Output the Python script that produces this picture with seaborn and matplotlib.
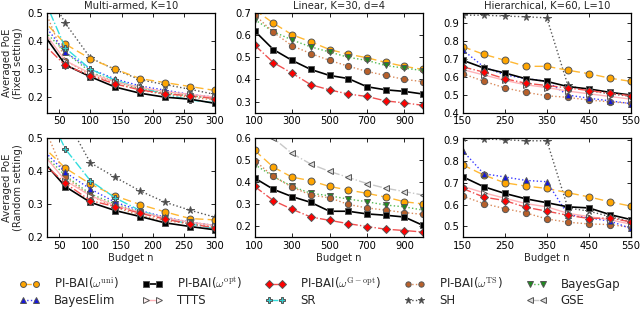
import numpy as np
import pandas as pd
import matplotlib
matplotlib.use("Agg")
import matplotlib.pyplot as plt
import seaborn as sns
from matplotlib.lines import Line2D

# ---------------- data ----------------
n_multi = [20, 60, 100, 140, 180, 220, 260, 300]
n_lin = [100, 200, 300, 400, 500, 600, 700, 800, 900, 1000]
n_hier = [150, 200, 250, 300, 350, 400, 450, 500, 550]

# Multi-armed, fixed
mf_uni = [0.485, 0.389, 0.337, 0.300, 0.266, 0.252, 0.238, 0.224]
mf_opt = [0.44, 0.315, 0.273, 0.236, 0.214, 0.200, 0.193, 0.178]
mf_gopt = [0.40, 0.313, 0.277, 0.247, 0.226, 0.212, 0.205, 0.195]
mf_ts = [0.55, 0.330, 0.280, 0.250, 0.225, 0.210, 0.200, 0.190]
mf_gap = [0.45, 0.360, 0.290, 0.255, 0.230, 0.215, 0.205, 0.195]
mf_elim = [0.475, 0.360, 0.300, 0.265, 0.240, 0.225, 0.210, 0.200]
mf_ttts = [0.45, 0.330, 0.285, 0.255, 0.235, 0.220, 0.210, 0.200]
mf_sr = [0.58, 0.375, 0.300, 0.260, 0.235, 0.210, 0.190, 0.180]
mf_sh = [0.62, 0.463, 0.340, 0.298, 0.262, 0.245, 0.228, 0.210]

# Multi-armed, random
mr_uni = [0.48, 0.408, 0.360, 0.324, 0.298, 0.276, 0.256, 0.252]
mr_opt = [0.437, 0.352, 0.305, 0.280, 0.262, 0.243, 0.232, 0.222]
mr_gopt = [0.43, 0.362, 0.310, 0.292, 0.272, 0.254, 0.240, 0.228]
mr_ts = [0.56, 0.380, 0.325, 0.290, 0.265, 0.250, 0.240, 0.230]
mr_gap = [0.46, 0.385, 0.330, 0.300, 0.275, 0.258, 0.245, 0.235]
mr_elim = [0.47, 0.395, 0.345, 0.305, 0.280, 0.260, 0.245, 0.235]
mr_ttts = [0.46, 0.370, 0.325, 0.295, 0.275, 0.258, 0.245, 0.235]
mr_sr = [0.62, 0.465, 0.370, 0.318, 0.280, 0.255, 0.240, 0.225]
mr_sh = [0.68, 0.560, 0.424, 0.380, 0.339, 0.305, 0.281, 0.260]

# Linear, fixed
lf_uni = [0.715, 0.654, 0.602, 0.570, 0.535, 0.514, 0.498, 0.477, 0.459, 0.445]
lf_gap = [0.670, 0.616, 0.578, 0.547, 0.524, 0.500, 0.486, 0.463, 0.451, 0.440]
lf_ts = [0.692, 0.613, 0.552, 0.517, 0.486, 0.460, 0.436, 0.418, 0.400, 0.390]
lf_opt = [0.619, 0.535, 0.486, 0.445, 0.418, 0.404, 0.367, 0.353, 0.346, 0.334]
lf_gopt = [0.555, 0.476, 0.428, 0.376, 0.353, 0.334, 0.323, 0.303, 0.294, 0.283]

# Linear, random
lr_gse = [0.640, 0.597, 0.528, 0.480, 0.447, 0.420, 0.392, 0.371, 0.356, 0.340]
lr_uni = [0.542, 0.466, 0.421, 0.405, 0.379, 0.363, 0.348, 0.331, 0.310, 0.300]
lr_ts = [0.496, 0.424, 0.376, 0.340, 0.328, 0.298, 0.282, 0.272, 0.261, 0.253]
lr_gap = [0.478, 0.424, 0.379, 0.348, 0.337, 0.322, 0.310, 0.295, 0.287, 0.272]
lr_opt = [0.417, 0.366, 0.333, 0.307, 0.267, 0.267, 0.255, 0.249, 0.241, 0.203]
lr_gopt = [0.379, 0.315, 0.276, 0.241, 0.226, 0.211, 0.198, 0.186, 0.180, 0.173]

# Hierarchical, fixed
hf_sh = [0.943, 0.943, 0.938, 0.934, 0.928, 0.552, 0.522, 0.505, 0.490]
hf_uni = [0.768, 0.725, 0.692, 0.658, 0.658, 0.636, 0.617, 0.592, 0.574]
hf_elim = [0.750, 0.655, 0.610, 0.590, 0.574, 0.498, 0.480, 0.466, 0.450]
hf_opt = [0.692, 0.649, 0.621, 0.589, 0.574, 0.545, 0.532, 0.513, 0.498]
hf_gopt = [0.655, 0.626, 0.589, 0.564, 0.551, 0.538, 0.523, 0.508, 0.494]
hf_ttts = [0.640, 0.610, 0.580, 0.555, 0.540, 0.520, 0.505, 0.490, 0.475]
hf_ts = [0.617, 0.575, 0.538, 0.513, 0.494, 0.485, 0.470, 0.460, 0.452]

# Hierarchical, random
hr_sh = [0.910, 0.903, 0.900, 0.895, 0.895, 0.585, 0.570, 0.545, 0.520]
hr_elim = [0.849, 0.743, 0.728, 0.712, 0.706, 0.554, 0.539, 0.524, 0.490]
hr_uni = [0.784, 0.737, 0.701, 0.686, 0.675, 0.655, 0.636, 0.613, 0.593]
hr_opt = [0.729, 0.683, 0.652, 0.627, 0.609, 0.590, 0.585, 0.554, 0.531]
hr_gopt = [0.675, 0.635, 0.619, 0.588, 0.570, 0.551, 0.536, 0.539, 0.520]
hr_ttts = [0.685, 0.655, 0.630, 0.605, 0.590, 0.560, 0.545, 0.530, 0.510]
hr_ts = [0.640, 0.605, 0.582, 0.562, 0.534, 0.519, 0.511, 0.508, 0.495]

titles = ["Multi-armed, K=10", "Linear, K=30, d=4", "Hierarchical, K=60, L=10"]
row_labels = ["Averaged PoE\n(Fixed setting)", "Averaged PoE\n(Random setting)"]
xlabel = "Budget n"

# ---------------- styles ----------------
labels = {
    "uni": r"PI-BAI($\omega^{\rm uni}$)",
    "opt": r"PI-BAI($\omega^{\rm opt}$)",
    "gopt": r"PI-BAI($\omega^{\rm G-opt}$)",
    "ts": r"PI-BAI($\omega^{\rm TS}$)",
    "gap": "BayesGap",
    "elim": "BayesElim",
    "ttts": "TTTS",
    "sr": "SR",
    "sh": "SH",
    "gse": "GSE",
}
EC = "#555555"
styles = {
    "uni": dict(color="#FFB833", linestyle=(0, (6, 3)), marker="o", markerfacecolor="#FFA500", markersize=5),
    "opt": dict(color="black", linestyle="-", marker="s", markerfacecolor="black", markersize=4.5, linewidth=1.2),
    "gopt": dict(color="#F05050", linestyle="-.", marker="D", markerfacecolor="#FF0000", markersize=4.5),
    "ts": dict(color="#D98A5A", linestyle=":", marker="o", markerfacecolor="#B8602A", markersize=4.5),
    "gap": dict(color="#55BB55", linestyle=":", marker="v", markerfacecolor="#1E8C1E", markersize=4.5),
    "elim": dict(color="#3A3AFF", linestyle=":", marker="^", markerfacecolor="#1515DD", markersize=4.5),
    "ttts": dict(color="#FFB3B8", linestyle="-", marker=">", markerfacecolor="#FFF0F0", markersize=4.5),
    "sr": dict(color="#33DDDD", linestyle="-.", marker="P", markerfacecolor="#33CCCC", markersize=5),
    "sh": dict(color="#555555", linestyle=":", marker="*", markerfacecolor="#444444", markersize=5.5),
    "gse": dict(color="#C8C8C8", linestyle="-.", marker="<", markerfacecolor="#DDDDDD", markersize=5),
}
draw_order = ["sh", "gse", "uni", "gap", "ts", "elim", "sr", "ttts", "opt", "gopt"]

panels = [
    [
        (n_multi, dict(uni=mf_uni, opt=mf_opt, gopt=mf_gopt, ts=mf_ts, gap=mf_gap, elim=mf_elim, ttts=mf_ttts, sr=mf_sr, sh=mf_sh)),
        (n_lin, dict(uni=lf_uni, opt=lf_opt, gopt=lf_gopt, ts=lf_ts, gap=lf_gap)),
        (n_hier, dict(uni=hf_uni, opt=hf_opt, gopt=hf_gopt, ts=hf_ts, elim=hf_elim, ttts=hf_ttts, sh=hf_sh)),
    ],
    [
        (n_multi, dict(uni=mr_uni, opt=mr_opt, gopt=mr_gopt, ts=mr_ts, gap=mr_gap, elim=mr_elim, ttts=mr_ttts, sr=mr_sr, sh=mr_sh)),
        (n_lin, dict(uni=lr_uni, opt=lr_opt, gopt=lr_gopt, ts=lr_ts, gap=lr_gap, gse=lr_gse)),
        (n_hier, dict(uni=hr_uni, opt=hr_opt, gopt=hr_gopt, ts=hr_ts, elim=hr_elim, ttts=hr_ttts, sh=hr_sh)),
    ],
]

xlims = [(30, 300), (100, 1000), (150, 550)]
xticks = [np.arange(50, 301, 50), np.arange(100, 1001, 200), np.arange(150, 551, 100)]
ylims = [[(0.145, 0.5), (0.25, 0.7), (0.4, 0.955)],
         [(0.2, 0.5), (0.15, 0.6), (0.45, 0.91)]]
yticks = [[np.arange(0.2, 0.51, 0.1), np.arange(0.3, 0.71, 0.1), np.arange(0.4, 0.91, 0.1)],
          [np.arange(0.2, 0.51, 0.1), np.arange(0.2, 0.61, 0.1), np.arange(0.5, 0.91, 0.1)]]

FS = 7.2

# ---------------- plotting ----------------
sns.set_theme(style="white")
plt.rcParams.update({
    "font.family": ["DejaVu Sans"],
    "mathtext.fontset": "cm",
    "axes.edgecolor": "black",
    "axes.linewidth": 0.9,
    "xtick.direction": "in",
    "ytick.direction": "in",
    "xtick.major.size": 3,
    "ytick.major.size": 3,
    "xtick.major.width": 0.6,
    "ytick.major.width": 0.6,
    "xtick.top": True,
    "ytick.right": True,
    "xtick.bottom": True,
    "ytick.left": True,
    "xtick.labelsize": FS,
    "ytick.labelsize": FS,
    "xtick.color": "black",
    "ytick.color": "black",
})

fig, axes = plt.subplots(2, 3, figsize=(6.4, 3.1), dpi=100)
fig.subplots_adjust(left=0.073, right=0.986, top=0.958, bottom=0.235, wspace=0.235, hspace=0.25)

for r in range(2):
    for c in range(3):
        ax = axes[r, c]
        xs, series = panels[r][c]
        for key in draw_order:
            if key not in series:
                continue
            st = dict(styles[key])
            lw = st.pop("linewidth", 1.0)
            df = pd.DataFrame({"x": xs, "y": series[key]})
            sns.lineplot(data=df, x="x", y="y", ax=ax, linewidth=lw,
                         markeredgecolor=EC, markeredgewidth=0.7, errorbar=None,
                         sort=False, **st)
        ax.set_xlim(*xlims[c])
        ax.set_ylim(*ylims[r][c])
        ax.set_xticks(xticks[c])
        ax.set_yticks(yticks[r][c])
        ax.set_yticklabels([f"{v:.1f}" for v in yticks[r][c]])
        ax.tick_params(axis="both", pad=2.5)
        ax.set_xlabel(xlabel if r == 1 else "", fontsize=FS, labelpad=2)
        ax.set_ylabel(row_labels[r] if c == 0 else "", fontsize=FS, labelpad=3)
        if r == 0:
            ax.set_title(titles[c], fontsize=FS, pad=3)
        for sp in ax.spines.values():
            sp.set_visible(True)
            sp.set_color("black")

legend_order = ["uni", "elim", "opt", "ttts", "gopt", "sr", "ts", "sh", "gap", "gse"]
handles = []
for key in legend_order:
    st = dict(styles[key])
    lw = st.pop("linewidth", 1.0)
    st["markersize"] = st["markersize"] * 0.85
    handles.append(Line2D([], [], linewidth=lw, markeredgecolor=EC, markeredgewidth=0.7, **st))
fig.legend(handles, [labels[k] for k in legend_order], loc="lower center", ncol=5,
           bbox_to_anchor=(0.5, -0.025), frameon=False, fontsize=8.5, numpoints=2,
           handlelength=1.7, columnspacing=2.0, handletextpad=1.2, labelspacing=0.25)

fig.savefig("out.png", dpi=100)
